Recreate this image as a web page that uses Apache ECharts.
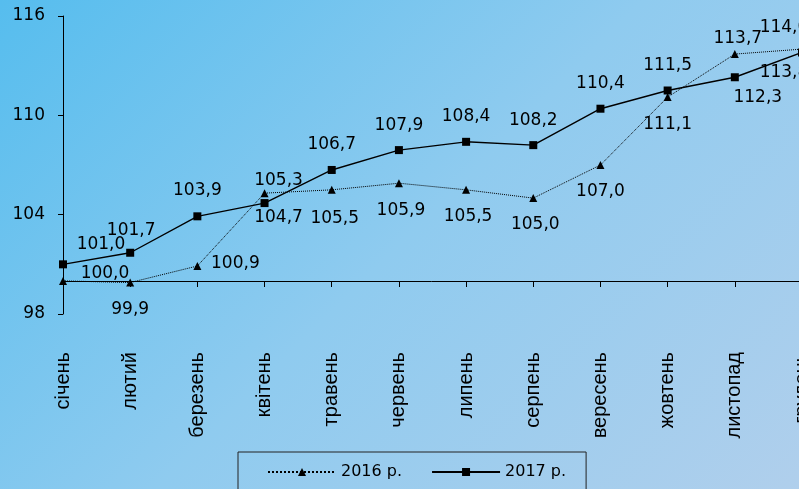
<!DOCTYPE html>
<html>
<head>
<meta charset="utf-8">
<script src="https://cdn.jsdelivr.net/npm/echarts@6/dist/echarts.min.js"></script>
<style>
html,body{margin:0;padding:0;}
#c{width:799px;height:489px;background:linear-gradient(135deg,#56bdee 0%,#8fcbef 50%,#b0cfec 100%);}
</style>
</head>
<body>
<div id="c"></div>
<script>
const categories = ['січень','лютий','березень','квітень','травень','червень','липень','серпень','вересень','жовтень','листопад','грудень'];
const values2016 = [100.0, 99.9, 100.9, 105.3, 105.5, 105.9, 105.5, 105.0, 107.0, 111.1, 113.7, 114.0];
const values2017 = [101.0, 101.7, 103.9, 104.7, 106.7, 107.9, 108.4, 108.2, 110.4, 111.5, 112.3, 113.8];
const yTicks = [98, 104, 110, 116];
const seriesNames = ['2016 р.', '2017 р.'];
// label placement offsets (px) relative to each point
const labelOffsets2016 = [[42,-7],[0,27],[38,-2],[14,-13],[3,29],[2,27],[2,27],[2,26],[0,27],[0,27],[3,-15],[-18,-22]];
const labelOffsets2017 = [[38,-20],[1,-22],[0,-26],[14,15],[0,-25],[0,-25],[0,-25],[0,-25],[0,-25],[0,-25],[23,20],[-18,20]];

function fmt(v){ return v.toFixed(1).replace('.', ','); }
function build(vals, offs){
  return vals.map((v,i)=>({value:v, label:{offset:offs[i]}}));
}
const font = 'DejaVu Sans';
const chart = echarts.init(document.getElementById('c'), null, {renderer:'canvas'});
chart.setOption({
  backgroundColor: 'transparent',
  animation: false,
  textStyle: {fontFamily: font, color: '#000'},
  grid: {left: 63, top: 16, right: -3, bottom: 175, outerBoundsMode: 'none', containLabel: false},
  xAxis: {
    type: 'category',
    data: categories,
    boundaryGap: false,
    offset: -33,
    axisLine: {lineStyle: {color: '#000', width: 1}},
    axisTick: {show: true, length: 6, lineStyle: {color: '#000'}},
    axisLabel: {rotate: 90, margin: 71, fontSize: 20, color: '#000', fontFamily: 'Liberation Sans', interval: 0, hideOverlap: false}
  },
  yAxis: {
    type: 'value',
    min: 98, max: 116,
    axisLine: {show: true, lineStyle: {color: '#000', width: 1}},
    axisTick: {show: true, length: 5, lineStyle: {color: '#000'}, customValues: yTicks},
    axisLabel: {fontSize: 17, color: '#000', margin: 18, fontFamily: font, customValues: yTicks},
    splitLine: {show: false}
  },
  legend: {
    left: 238, top: 452,
    padding: [12, 20, 12, 29],
    itemGap: 29,
    itemWidth: 68, itemHeight: 10,
    borderColor: '#222', borderWidth: 1,
    textStyle: {fontSize: 16, color: '#000', fontFamily: font},
    data: seriesNames
  },
  series: [
    {
      name: seriesNames[0], type: 'line',
      data: build(values2016, labelOffsets2016),
      symbol: 'triangle', symbolSize: 8,
      lineStyle: {color: '#000', width: 1, type: 'dotted'},
      itemStyle: {color: '#000'},
      label: {show: true, position: 'inside', fontSize: 17, color: '#000', fontFamily: font,
              formatter: p => fmt(p.value)}
    },
    {
      name: seriesNames[1], type: 'line',
      data: build(values2017, labelOffsets2017),
      symbol: 'rect', symbolSize: 8,
      lineStyle: {color: '#000', width: 1.4, type: 'solid'},
      itemStyle: {color: '#000'},
      label: {show: true, position: 'inside', fontSize: 17, color: '#000', fontFamily: font,
              formatter: p => fmt(p.value)}
    }
  ]
});
</script>
</body>
</html>
